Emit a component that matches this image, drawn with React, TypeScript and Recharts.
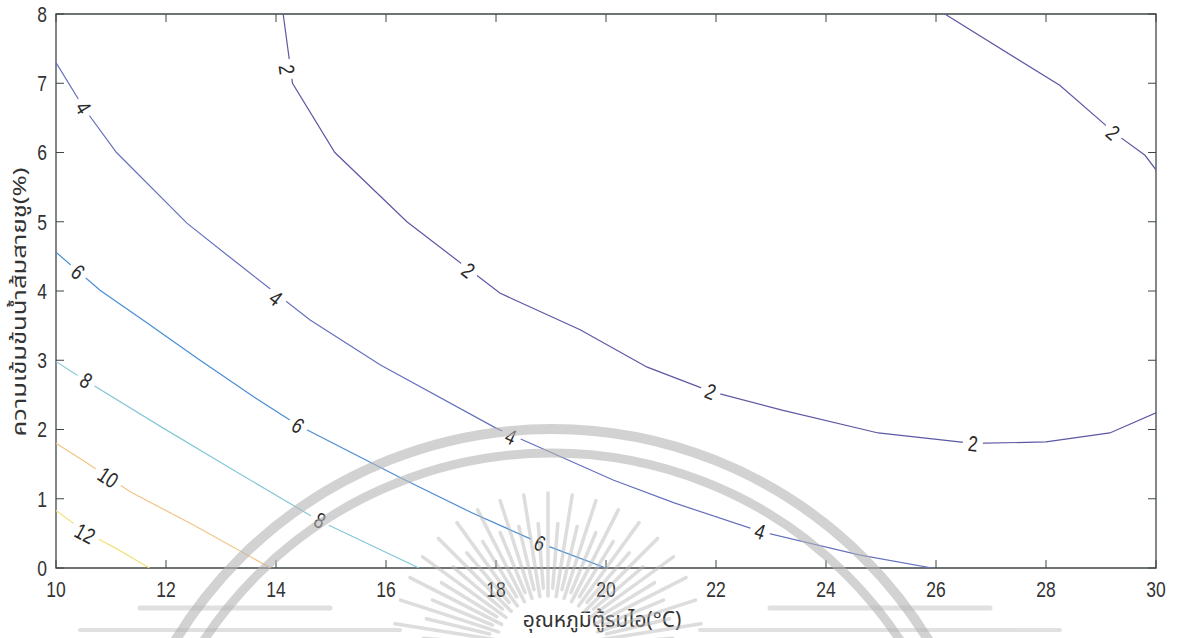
import { ComposedChart, Line, Scatter, XAxis, YAxis, ReferenceArea } from 'recharts';

// axis ticks
const xTicks = [10, 12, 14, 16, 18, 20, 22, 24, 26, 28, 30];
const yTicks = [0, 1, 2, 3, 4, 5, 6, 7, 8];

// contour polylines (x = temperature, y = concentration)
const contour2 = [
    { x: 14.13, y: 8 }, { x: 14.3, y: 7.0 }, { x: 15.07, y: 6.0 }, { x: 16.38, y: 5.0 },
    { x: 18.07, y: 3.97 }, { x: 19.53, y: 3.44 }, { x: 20.75, y: 2.9 }, { x: 21.9, y: 2.55 },
    { x: 23.2, y: 2.28 }, { x: 24.95, y: 1.95 }, { x: 26.67, y: 1.8 }, { x: 28.0, y: 1.82 },
    { x: 29.16, y: 1.95 }, { x: 30, y: 2.24 },
];
const contour2Top = [
    { x: 26.16, y: 8 }, { x: 28.25, y: 6.97 }, { x: 29.25, y: 6.28 }, { x: 29.8, y: 5.96 }, { x: 30, y: 5.75 },
];
const contour4 = [
    { x: 10, y: 7.3 }, { x: 10.5, y: 6.65 }, { x: 11.1, y: 6.0 }, { x: 12.38, y: 4.98 },
    { x: 13.22, y: 4.45 }, { x: 14.62, y: 3.58 }, { x: 15.9, y: 2.93 }, { x: 18.0, y: 2.02 },
    { x: 20.13, y: 1.27 }, { x: 21.24, y: 0.94 }, { x: 22.8, y: 0.53 }, { x: 24.6, y: 0.19 },
    { x: 25.93, y: 0 },
];
const contour6 = [
    { x: 10, y: 4.56 }, { x: 10.8, y: 4.01 }, { x: 11.58, y: 3.58 }, { x: 12.62, y: 3.0 },
    { x: 13.6, y: 2.47 }, { x: 14.4, y: 2.06 }, { x: 16.3, y: 1.29 }, { x: 17.58, y: 0.79 },
    { x: 18.8, y: 0.36 }, { x: 20, y: 0 },
];
const contour8 = [
    { x: 10, y: 2.98 }, { x: 10.53, y: 2.71 }, { x: 11.95, y: 2.02 }, { x: 13.3, y: 1.38 },
    { x: 14.77, y: 0.69 }, { x: 16.6, y: 0 },
];
const contour10 = [
    { x: 10, y: 1.8 }, { x: 10.5, y: 1.55 }, { x: 11.35, y: 1.1 }, { x: 12.5, y: 0.62 }, { x: 13.9, y: 0 },
];
const contour12 = [
    { x: 10, y: 0.83 }, { x: 10.53, y: 0.52 }, { x: 11.1, y: 0.28 }, { x: 11.7, y: 0 },
];

// inline level labels
const contourLabels = [
    { x: 14.2, y: 7.2, level: 2 },
    { x: 17.5, y: 4.3, level: 2 },
    { x: 21.9, y: 2.55, level: 2 },
    { x: 26.67, y: 1.8, level: 2 },
    { x: 29.22, y: 6.29, level: 2 },
    { x: 10.5, y: 6.65, level: 4 },
    { x: 14.0, y: 3.9, level: 4 },
    { x: 18.27, y: 1.9, level: 4 },
    { x: 22.8, y: 0.53, level: 4 },
    { x: 10.4, y: 4.28, level: 6 },
    { x: 14.4, y: 2.06, level: 6 },
    { x: 18.8, y: 0.36, level: 6 },
    { x: 10.55, y: 2.71, level: 8 },
    { x: 14.8, y: 0.69, level: 8 },
    { x: 10.95, y: 1.31, level: 10 },
    { x: 10.53, y: 0.5, level: 12 },
];

const series = [
    { level: 2, points: contour2 },
    { level: 2, points: contour2Top },
    { level: 4, points: contour4 },
    { level: 6, points: contour6 },
    { level: 8, points: contour8 },
    { level: 10, points: contour10 },
    { level: 12, points: contour12 },
];

const levelColors: Record<number, string> = {
    2: '#5d58a4',
    4: '#6670bd',
    6: '#4a8dd4',
    8: '#86c8d8',
    10: '#f0c585',
    12: '#f2e27e',
};

const W = 1185;
const H = 638;
const PLOT_LEFT = 56;
const PLOT_TOP = 14;
const PLOT_W = 1100;
const PLOT_H = 554;
const PLOT_RIGHT = PLOT_LEFT + PLOT_W;
const PLOT_BOTTOM = PLOT_TOP + PLOT_H;
const KX = PLOT_W / 20;
const KY = PLOT_H / 8;
const TICK = 8;
const STRETCH = 1.25; // glyphs are drawn slightly tall
const NUM_SIZE = 17.5;
const AXIS_COLOR = '#3f4747';
const NUM_FONT = "'Liberation Sans', Arial, sans-serif";
const THAI_FONT = "'Noto Sans Thai', 'Loma', 'Garuda', Tahoma, 'DejaVu Sans', sans-serif";

// text follows the local direction of its contour
const labelAngle = (lab: { x: number; y: number; level: number }) => {
    let best = { d: Infinity, ang: 0 };
    series.filter((s) => s.level === lab.level).forEach((s) => {
        for (let i = 0; i < s.points.length - 1; i++) {
            const a = s.points[i];
            const b = s.points[i + 1];
            const ax = a.x * KX, ay = -a.y * KY, bx = b.x * KX, by = -b.y * KY;
            const px = lab.x * KX, py = -lab.y * KY;
            const vx = bx - ax, vy = by - ay;
            const t = Math.max(0, Math.min(1, ((px - ax) * vx + (py - ay) * vy) / (vx * vx + vy * vy)));
            const d = Math.hypot(ax + t * vx - px, ay + t * vy - py);
            if (d < best.d) {
                let ang = (Math.atan2(vy, vx) * 180) / Math.PI;
                if (ang > 90) ang -= 180;
                if (ang < -90) ang += 180;
                best = { d, ang };
            }
        }
    });
    return best.ang;
};

const renderLabel = (props: any) => {
    const { cx, cy, payload } = props;
    const txt = String(payload.level);
    const ang = labelAngle(payload);
    const w = txt.length * 10 + 10;
    return (
        <g transform={`translate(${cx},${cy}) rotate(${ang})`}>
            <rect x={-w / 2} y={-11} width={w} height={22} fill="#fff" />
            <text
                transform={`scale(1,${STRETCH})`}
                dy="0.36em"
                textAnchor="middle"
                fontSize={NUM_SIZE}
                fill="#2a2a2a"
                fontFamily={NUM_FONT}
            >
                {txt}
            </text>
        </g>
    );
};

const renderXTick = (props: any) => {
    const { x, payload } = props;
    return (
        <g>
            <line x1={x} x2={x} y1={PLOT_BOTTOM} y2={PLOT_BOTTOM - TICK} stroke={AXIS_COLOR} />
            <line x1={x} x2={x} y1={PLOT_TOP} y2={PLOT_TOP + TICK} stroke={AXIS_COLOR} />
            <text
                transform={`translate(${x},${PLOT_BOTTOM + 29}) scale(1,${STRETCH})`}
                textAnchor="middle"
                fontSize={NUM_SIZE}
                fill="#333"
                fontFamily={NUM_FONT}
            >
                {payload.value}
            </text>
        </g>
    );
};

const renderYTick = (props: any) => {
    const { y, payload } = props;
    return (
        <g>
            <line x1={PLOT_LEFT} x2={PLOT_LEFT + TICK} y1={y} y2={y} stroke={AXIS_COLOR} />
            <line x1={PLOT_RIGHT} x2={PLOT_RIGHT - TICK} y1={y} y2={y} stroke={AXIS_COLOR} />
            <text
                transform={`translate(${PLOT_LEFT - 9},${y}) scale(1,${STRETCH})`}
                dy="0.36em"
                textAnchor="end"
                fontSize={NUM_SIZE}
                fill="#333"
                fontFamily={NUM_FONT}
            >
                {payload.value}
            </text>
        </g>
    );
};

// faint seal printed across the lower part of the page
const Watermark = () => {
    const cx = 548;
    const cy = 648;
    const rays = [];
    for (let i = 0; i <= 40; i++) {
        const a = Math.PI + (i / 40) * Math.PI;
        const r0 = i % 2 ? 60 : 52;
        const r1 = i % 2 ? 125 : 155;
        rays.push(
            <line
                key={i}
                x1={cx + r0 * Math.cos(a)}
                y1={cy + r0 * Math.sin(a)}
                x2={cx + r1 * Math.cos(a)}
                y2={cy + r1 * Math.sin(a)}
                strokeWidth={3.5}
                strokeLinecap="round"
            />
        );
    }
    return (
        <svg width={W} height={H} style={{ position: 'absolute', left: 0, top: 0, pointerEvents: 'none' }}>
            <g fill="none" stroke="#b4b4b4">
                <circle cx={552} cy={870} r={441} strokeWidth={10} opacity={0.6} />
                <circle cx={552} cy={870} r={417} strokeWidth={9} opacity={0.6} />
                <g opacity={0.45}>{rays}</g>
                <g opacity={0.4} strokeLinecap="round">
                    <line x1={140} x2={330} y1={608} y2={608} strokeWidth={5} />
                    <line x1={770} x2={990} y1={608} y2={608} strokeWidth={5} />
                    <line x1={80} x2={400} y1={630} y2={630} strokeWidth={4} />
                    <line x1={700} x2={1060} y1={630} y2={630} strokeWidth={4} />
                </g>
            </g>
        </svg>
    );
};

const App = () => {
    return (
        <div style={{ position: 'fixed', left: 0, top: 0, width: W, height: H, background: '#fff' }}>
            <ComposedChart width={W} height={H} margin={{ top: PLOT_TOP, right: W - PLOT_RIGHT, bottom: 30, left: 0 }}>
                <XAxis
                    type="number"
                    dataKey="x"
                    domain={[10, 30]}
                    ticks={xTicks}
                    interval={0}
                    allowDataOverflow
                    axisLine={false}
                    tickLine={false}
                    tick={renderXTick}
                    height={H - 30 - PLOT_BOTTOM}
                />
                <YAxis
                    type="number"
                    dataKey="y"
                    domain={[0, 8]}
                    ticks={yTicks}
                    interval={0}
                    allowDataOverflow
                    axisLine={false}
                    tickLine={false}
                    tick={renderYTick}
                    width={PLOT_LEFT}
                />
                {series.map((s, i) => (
                    <Line
                        key={i}
                        data={s.points}
                        dataKey="y"
                        type="linear"
                        stroke={levelColors[s.level]}
                        strokeWidth={1.2}
                        dot={false}
                        activeDot={false}
                        isAnimationActive={false}
                    />
                ))}
                <Scatter data={contourLabels} dataKey="y" shape={renderLabel} isAnimationActive={false} />
                <ReferenceArea x1={10} x2={30} y1={0} y2={8} fill="none" fillOpacity={0} stroke={AXIS_COLOR} strokeWidth={1.3} />
            </ComposedChart>
            <svg width={W} height={H} style={{ position: 'absolute', left: 0, top: 0, pointerEvents: 'none' }}>
                <text x={602} y={627} textAnchor="middle" fontSize={21} fill="#333" fontFamily={THAI_FONT}>
                    อุณหภูมิตู้รมไอ(°C)
                </text>
                <text
                    textAnchor="middle"
                    fontSize={19}
                    fill="#333"
                    fontFamily={THAI_FONT}
                    transform={`translate(26,302) rotate(-90) scale(1.35,1)`}
                >
                    ความเข้มข้นน้ำส้มสายชู(%)
                </text>
            </svg>
            <Watermark />
        </div>
    );
};

export default App;
